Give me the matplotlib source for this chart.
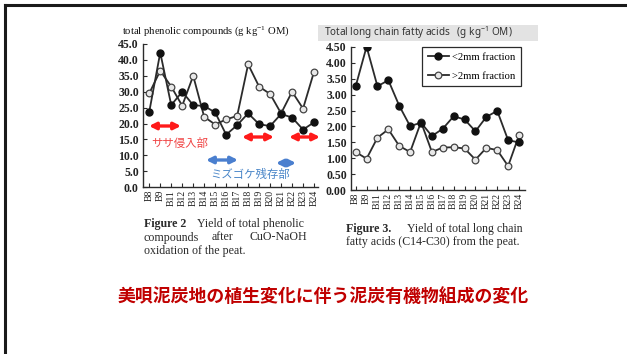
import matplotlib
matplotlib.use("Agg")
import matplotlib.pyplot as plt
from matplotlib.patches import Rectangle, FancyArrowPatch
from matplotlib.lines import Line2D

# ---- data -------------------------------------------------------------
samples = ["B8", "B9", "B11", "B12", "B13", "B14", "B15", "B16",
           "B17", "B18", "B19", "B20", "B21", "B22", "B23", "B24"]

phenolic_filled = [23.7, 42.3, 25.8, 30.0, 25.8, 25.5, 23.5, 16.5,
                   19.5, 23.2, 19.8, 19.2, 23.0, 21.9, 18.1, 20.4]
phenolic_open = [29.5, 36.6, 31.6, 25.6, 35.0, 22.1, 19.7, 21.3,
                 22.4, 38.6, 31.6, 29.3, 23.2, 30.0, 24.7, 36.3]

fatty_fine = [3.26, 4.50, 3.26, 3.45, 2.65, 2.01, 2.12, 1.70,
              1.93, 2.32, 2.22, 1.85, 2.30, 2.49, 1.57, 1.50]
fatty_coarse = [1.20, 0.99, 1.65, 1.91, 1.39, 1.20, 2.14, 1.20,
                1.34, 1.35, 1.31, 0.96, 1.33, 1.26, 0.76, 1.72]

phenolic_ticks = [0, 5, 10, 15, 20, 25, 30, 35, 40, 45]
fatty_ticks = [0.0, 0.5, 1.0, 1.5, 2.0, 2.5, 3.0, 3.5, 4.0, 4.5]
legend_labels = ["<2mm fraction", ">2mm fraction"]

# ---- figure -----------------------------------------------------------
W, H = 627, 354
plt.rcParams["mathtext.default"] = "regular"
fig = plt.figure(figsize=(W / 100, H / 100), dpi=100)
fig.patch.set_facecolor("white")

SERIF = "Liberation Serif"
JP = ["Noto Sans CJK JP", "DejaVu Sans"]
INK = "#2b2b2b"


def fx(px):
    return px / W


def fy(py):
    return 1 - py / H


def pix_axes(x0, y_top, x1, y_bot):
    return fig.add_axes([fx(x0), fy(y_bot), (x1 - x0) / W, (y_bot - y_top) / H])


def style_axes(ax, ticks, fmt):
    x = range(len(samples))
    for s in ("top", "right"):
        ax.spines[s].set_visible(False)
    for s in ("left", "bottom"):
        ax.spines[s].set_linewidth(1.0)
        ax.spines[s].set_color(INK)
    ax.set_yticks(ticks)
    ax.set_yticklabels([fmt.format(t) for t in ticks], fontfamily=SERIF,
                       fontweight="bold", fontsize=8.5, color="#222222")
    ax.set_xticks(list(x))
    ax.set_xticklabels(samples, rotation=90, fontfamily=SERIF,
                       fontsize=7, color="#222222")
    ax.tick_params(axis="both", direction="in", length=3, width=0.8,
                   color=INK, pad=2)
    ax.tick_params(axis="y", pad=3)


def plot_pair(ax, filled, opened):
    x = range(len(samples))
    ax.plot(x, opened, color=INK, lw=1.3, marker="o", ms=4.8,
            mfc="#e8e8e8", mec="#444444", mew=0.9, zorder=3)
    ax.plot(x, filled, color=INK, lw=1.3, marker="o", ms=5.0,
            mfc="#111111", mec="#111111", zorder=4)


# Left panel: total phenolic compounds
ax1 = pix_axes(143, 44, 318, 187.2)
plot_pair(ax1, phenolic_filled, phenolic_open)
ax1.set_ylim(0, 45)
ax1.set_xlim(-0.57, 15.36)
style_axes(ax1, phenolic_ticks, "{:.1f}")

fig.text(fx(122), fy(31), "total phenolic compounds (g kg$^{-1}$ OM)",
         fontfamily=SERIF, fontsize=7.7, color="#111111",
         va="center", ha="left")

# Right panel: total long chain fatty acids
ax2 = pix_axes(351, 46.7, 525, 190.3)
plot_pair(ax2, fatty_fine, fatty_coarse)
ax2.set_ylim(0, 4.5)
ax2.set_xlim(-0.43, 15.55)
style_axes(ax2, fatty_ticks, "{:.2f}")

handles = [
    Line2D([], [], color=INK, lw=1.3, marker="o", ms=5.0,
           mfc="#111111", mec="#111111"),
    Line2D([], [], color=INK, lw=1.3, marker="o", ms=4.8,
           mfc="#e8e8e8", mec="#444444", mew=0.9),
]
leg = ax2.legend(handles, legend_labels, loc="upper left",
                 bbox_to_anchor=(fx(422), fy(47)), bbox_transform=fig.transFigure,
                 frameon=True, fancybox=False, framealpha=1,
                 prop={"family": SERIF, "size": 7.6},
                 handlelength=2.0, handletextpad=0.3, borderpad=0.55,
                 labelspacing=0.85, borderaxespad=0)
leg.get_frame().set_edgecolor(INK)
leg.get_frame().set_linewidth(0.9)

fig.patches.append(Rectangle((fx(318), fy(41)), 220 / W, 16 / H,
                             transform=fig.transFigure, facecolor="#e3e3e3",
                             edgecolor="none", zorder=0))
fig.text(fx(324), fy(33), "Total long chain fatty acids   (g kg$^{-1}$ OM)",
         fontfamily="Noto Sans", fontsize=7.2, color="#333333",
         va="center", ha="left")

# ---- captions ---------------------------------------------------------
cap = dict(fontfamily=SERIF, fontsize=8.6, color="#2a2a2a", va="center")


def caption_head(x, y, bold, rest, gap):
    head = fig.text(fx(x), fy(y), bold, fontweight="bold", ha="left", **cap)
    fig.add_artist(matplotlib.text.Annotation(
        rest, xy=(1, 0.5), xycoords=head, xytext=(gap, 0),
        textcoords="offset points", ha="left", **cap))


caption_head(144, 224, "Figure 2", "Yield of total phenolic", 8)
fig.text(fx(144), fy(237.5), "compounds", ha="left", **cap)
fig.text(fx(222), fy(237.5), "after", ha="center", **cap)
fig.text(fx(307), fy(237.5), "CuO-NaOH", ha="right", **cap)
fig.text(fx(144), fy(251), "oxidation of the peat.", ha="left", **cap)

caption_head(346, 229, "Figure 3.", "Yield of total long chain", 11)
fig.text(fx(346), fy(242.5), "fatty acids (C14-C30) from the peat.",
         ha="left", **cap)

# ---- vegetation zone markers on the phenolic panel ---------------------
RED = "#ff1a1a"
BLUE = "#4a7fcf"


def span_arrow(x0, x1, y, color):
    fig.add_artist(FancyArrowPatch(
        (fx(x0), fy(y)), (fx(x1), fy(y)), transform=fig.transFigure,
        arrowstyle="<|-|>", mutation_scale=10, lw=2.4, color=color,
        shrinkA=0, shrinkB=0))


span_arrow(149, 181, 126, RED)
span_arrow(242, 274, 137, RED)
span_arrow(289, 320, 137, RED)
span_arrow(206, 238, 160, BLUE)
span_arrow(276, 296, 163, BLUE)

fig.text(fx(180), fy(143), "ササ侵入部", fontfamily=JP, fontsize=8.2,
         color="#f04545", ha="center", va="center")
fig.text(fx(250), fy(174), "ミズゴケ残存部", fontfamily=JP, fontsize=8.2,
         color="#4a86c8", ha="center", va="center")

# ---- slide heading and frame ------------------------------------------
fig.text(fx(323.5), fy(297), "美唄泥炭地の植生変化に伴う泥炭有機物組成の変化",
         fontfamily=JP, fontweight="bold", fontsize=12.9, color="#c00000",
         ha="center", va="center")

fig.add_artist(Line2D([fx(5), fx(5)], [0, fy(5)], transform=fig.transFigure,
                      color="#1a1a1a", lw=2.2))
fig.add_artist(Line2D([fx(5), 1], [fy(5), fy(5)], transform=fig.transFigure,
                      color="#1a1a1a", lw=2.2))

fig.savefig("out.png", dpi=100, facecolor="white")
